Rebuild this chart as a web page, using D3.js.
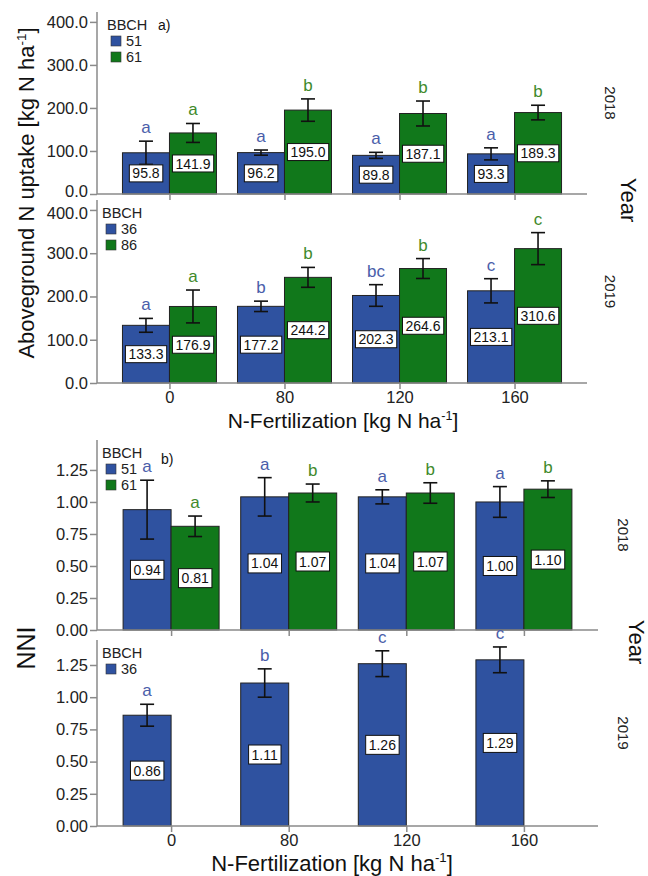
<!DOCTYPE html>
<html lang="en">
<head>
    <meta charset="UTF-8">
    <title>Aboveground N uptake and NNI</title>
    <style>
        body { margin: 0; background: #fff; }
        svg { display: block; font-family: "Liberation Sans", Arial, sans-serif; }
        .axis path, .axis line { stroke: #8a8a8a; stroke-width: 1.5px; }
        .axis text { font-size: 16.5px; fill: #222; }
        .bar { stroke: #222; stroke-width: 1px; }
        .err { stroke: #111; stroke-width: 1.6px; }
        .vlab rect { fill: #fff; stroke: #111; stroke-width: 1px; }
        .vlab text { font-size: 14px; fill: #111; }
    </style>
</head>
<body>
    <svg id="chart" width="648" height="876"></svg>
    <script src="https://d3js.org/d3.v7.min.js"></script>
    <script>
        // N rates (x categories)
        const nRates = ["0", "80", "120", "160"];

        // a) aboveground N uptake, 2018
        const uptake18_51 = [95.8, 96.2, 89.8, 93.3];
        const uptake18_51_err = [27, 6, 7, 14];
        const uptake18_51_sig = ["a", "a", "a", "a"];
        const uptake18_61 = [141.9, 195.0, 187.1, 189.3];
        const uptake18_61_err = [22, 26, 29, 17];
        const uptake18_61_sig = ["a", "b", "b", "b"];

        // a) aboveground N uptake, 2019
        const uptake19_36 = [133.3, 177.2, 202.3, 213.1];
        const uptake19_36_err = [16, 12, 25, 28];
        const uptake19_36_sig = ["a", "b", "bc", "c"];
        const uptake19_86 = [176.9, 244.2, 264.6, 310.6];
        const uptake19_86_err = [38, 23, 23, 37];
        const uptake19_86_sig = ["a", "b", "b", "c"];

        // b) NNI 2018
        const nni18_51 = [0.94, 1.04, 1.04, 1.00];
        const nni18_51_err = [0.23, 0.15, 0.055, 0.12];
        const nni18_51_sig = ["a", "a", "a", "a"];
        const nni18_61 = [0.81, 1.07, 1.07, 1.10];
        const nni18_61_err = [0.08, 0.07, 0.08, 0.065];
        const nni18_61_sig = ["a", "b", "b", "b"];

        // b) NNI 2019
        const nni19_36 = [0.86, 1.11, 1.26, 1.29];
        const nni19_36_err = [0.085, 0.11, 0.10, 0.10];
        const nni19_36_sig = ["a", "b", "c", "c"];

        const uptakeTicks = [0, 100, 200, 300, 400];
        const nniTicks = [0, 0.25, 0.5, 0.75, 1.0, 1.25];

        const BLUE = "#2f52a0", GREEN = "#11781b";
        const BLUE_TXT = "#4a5eaa", GREEN_TXT = "#3f8a2c";

        const svg = d3.select("#chart");

        function panel(opt) {
            const g = svg.append("g");
            const x = d3.scalePoint().domain(nRates).range([opt.x0, opt.x1]).padding(0.63);
            const inner = d3.scaleBand().domain([0, 1]).range([-opt.bw, opt.bw]);
            const y = d3.scaleLinear().domain([0, opt.ymax]).range([opt.yb, opt.yt]);

            // series
            opt.series.forEach((s, si) => {
                const rows = nRates.map((r, i) => ({ r, v: s.values[i], e: s.err[i], sig: s.sig[i] }));
                const sg = g.append("g");
                sg.selectAll("rect.bar").data(rows).enter().append("rect")
                    .attr("class", "bar")
                    .attr("x", d => x(d.r) + inner(si))
                    .attr("width", inner.bandwidth())
                    .attr("y", d => y(d.v))
                    .attr("height", d => y(0) - y(d.v))
                    .attr("fill", s.color);

                const cx = d => x(d.r) + inner(si) + inner.bandwidth() / 2;
                // error bars
                sg.selectAll("line.ev").data(rows).enter().append("line")
                    .attr("class", "err")
                    .attr("x1", cx).attr("x2", cx)
                    .attr("y1", d => y(d.v + d.e)).attr("y2", d => y(d.v - d.e));
                [1, -1].forEach(sgn => {
                    sg.selectAll(null).data(rows).enter().append("line")
                        .attr("class", "err")
                        .attr("x1", d => cx(d) - 7).attr("x2", d => cx(d) + 7)
                        .attr("y1", d => y(d.v + sgn * d.e)).attr("y2", d => y(d.v + sgn * d.e));
                });
                // significance letters
                sg.selectAll("text.sig").data(rows).enter().append("text")
                    .attr("x", cx)
                    .attr("y", d => y(d.v + d.e) - 8)
                    .attr("text-anchor", "middle")
                    .attr("font-size", 17)
                    .attr("fill", s.txt)
                    .text(d => d.sig);
                // value labels
                const lab = sg.selectAll("g.vlab").data(rows).enter().append("g")
                    .attr("class", "vlab")
                    .attr("transform", d => `translate(${cx(d)},${(y(d.v) + y(0)) / 2})`);
                lab.append("text")
                    .attr("text-anchor", "middle")
                    .attr("dy", "0.36em")
                    .text(d => d3.format(opt.fmt)(d.v));
                lab.each(function () {
                    const t = d3.select(this).select("text").node().getBBox();
                    d3.select(this).insert("rect", "text")
                        .attr("x", t.x - 3).attr("y", -opt.lh / 2)
                        .attr("width", t.width + 6).attr("height", opt.lh);
                });
            });

            // y axis
            const ya = g.append("g").attr("class", "axis")
                .attr("transform", `translate(${opt.x0},0)`)
                .call(d3.axisLeft(y).tickValues(opt.ticks).tickFormat(d3.format(opt.fmt)).tickSize(7).tickPadding(2));
            ya.select(".domain").remove();
            // nudge crowded end labels where two panels meet
            if (opt.nudgeBottom) ya.selectAll(".tick text").filter(d => d === 0).attr("y", -3);
            if (opt.nudgeTop) ya.selectAll(".tick text").filter(d => d === opt.ticks[opt.ticks.length - 1]).attr("y", 3);
            g.append("line").attr("class", "axis-line")
                .attr("x1", opt.x0).attr("x2", opt.x0).attr("y1", opt.yt).attr("y2", y(0))
                .attr("stroke", "#8a8a8a").attr("stroke-width", 1.5);

            // x axis
            const xa = g.append("g").attr("class", "axis")
                .attr("transform", `translate(0,${y(0)})`)
                .call(d3.axisBottom(x).tickSize(6).tickPadding(2).tickSizeOuter(0));
            xa.select(".domain").attr("d", `M${opt.x0},0H${opt.x1}`);
            if (!opt.xlabels) xa.selectAll("text").remove();

            // legend
            const lg = g.append("g").attr("transform", `translate(${opt.x0 + opt.lgdx},${opt.yt})`);
            lg.append("text").attr("x", 0).attr("y", 18).attr("font-size", 14.5).attr("fill", "#222").text("BBCH");
            opt.series.forEach((s, i) => {
                lg.append("rect").attr("x", 4).attr("y", 24 + i * 16).attr("width", 10).attr("height", 10)
                    .attr("fill", s.color).attr("stroke", "#333").attr("stroke-width", 0.6);
                lg.append("text").attr("x", 19).attr("y", 34 + i * 16).attr("font-size", 14.5).attr("fill", "#222").text(s.name);
            });

            // year strip
            g.append("text")
                .attr("transform", `translate(${opt.yearX},${(opt.yt + y(0)) / 2}) rotate(90)`)
                .attr("text-anchor", "middle").attr("dy", "-0.35em")
                .attr("font-size", 15).attr("fill", "#222").text(opt.year);
            return { x, y };
        }

        // a) 2018
        panel({
            x0: 97, x1: 587, bw: 47, yb: 194, yt: 12, ymax: 423, ticks: uptakeTicks, fmt: ".1f", lh: 17,
            lgdx: 10, yearX: 600, year: "2018", xlabels: false, nudgeBottom: true,
            series: [
                { name: "51", color: BLUE, txt: BLUE_TXT, values: uptake18_51, err: uptake18_51_err, sig: uptake18_51_sig },
                { name: "61", color: GREEN, txt: GREEN_TXT, values: uptake18_61, err: uptake18_61_err, sig: uptake18_61_sig }
            ]
        });
        // a) 2019
        panel({
            x0: 97, x1: 587, bw: 47, yb: 383, yt: 200, ymax: 423, ticks: uptakeTicks, fmt: ".1f", lh: 17,
            lgdx: 5, yearX: 600, year: "2019", xlabels: true, nudgeTop: true,
            series: [
                { name: "36", color: BLUE, txt: BLUE_TXT, values: uptake19_36, err: uptake19_36_err, sig: uptake19_36_sig },
                { name: "86", color: GREEN, txt: GREEN_TXT, values: uptake19_86, err: uptake19_86_err, sig: uptake19_86_sig }
            ]
        });
        // b) 2018
        panel({
            x0: 97, x1: 598, bw: 48, yb: 630, yt: 440, ymax: 1.484, ticks: nniTicks, fmt: ".2f", lh: 19,
            lgdx: 5, yearX: 613, year: "2018", xlabels: false,
            series: [
                { name: "51", color: BLUE, txt: BLUE_TXT, values: nni18_51, err: nni18_51_err, sig: nni18_51_sig },
                { name: "61", color: GREEN, txt: GREEN_TXT, values: nni18_61, err: nni18_61_err, sig: nni18_61_sig }
            ]
        });
        // b) 2019
        panel({
            x0: 97, x1: 598, bw: 48, yb: 826, yt: 640, ymax: 1.444, ticks: nniTicks, fmt: ".2f", lh: 19,
            lgdx: 5, yearX: 613, year: "2019", xlabels: true,
            series: [
                { name: "36", color: BLUE, txt: BLUE_TXT, values: nni19_36, err: nni19_36_err, sig: nni19_36_sig }
            ]
        });

        // panel tags
        svg.append("text").attr("x", 158).attr("y", 30).attr("font-size", 14).attr("fill", "#111").text("a)");
        svg.append("text").attr("x", 161).attr("y", 464).attr("font-size", 14).attr("fill", "#111").text("b)");

        // axis titles
        function xTitle(cx, by, fs) {
            const t = svg.append("text").attr("x", cx).attr("y", by).attr("text-anchor", "middle")
                .attr("font-size", fs).attr("fill", "#111");
            t.append("tspan").text("N-Fertilization [kg N ha");
            t.append("tspan").attr("font-size", fs * 0.6).attr("dy", -fs * 0.4).text("-1");
            t.append("tspan").attr("dy", fs * 0.4).text("]");
        }
        xTitle(343, 428, 21);
        xTitle(332, 871, 22);

        const yt = svg.append("text").attr("transform", "translate(34,193) rotate(-90)")
            .attr("text-anchor", "middle").attr("font-size", 22).attr("fill", "#111");
        yt.append("tspan").text("Aboveground N uptake [kg N ha");
        yt.append("tspan").attr("font-size", 13.5).attr("dy", -8).text("-1");
        yt.append("tspan").attr("dy", 8).text("]");

        svg.append("text").attr("transform", "translate(35,648) rotate(-90)")
            .attr("text-anchor", "middle").attr("font-size", 25).attr("fill", "#111").text("NNI");

        svg.append("text").attr("transform", "translate(621,200) rotate(90)")
            .attr("text-anchor", "middle").attr("font-size", 22).attr("fill", "#111").text("Year");
        svg.append("text").attr("transform", "translate(629,642) rotate(90)")
            .attr("text-anchor", "middle").attr("font-size", 22).attr("fill", "#111").text("Year");
    </script>
</body>
</html>
